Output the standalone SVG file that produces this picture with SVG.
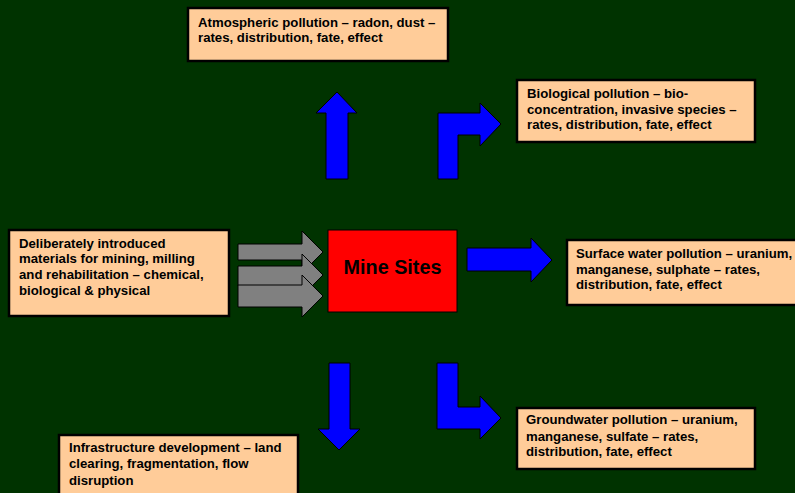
<svg xmlns="http://www.w3.org/2000/svg" width="795" height="493" viewBox="0 0 795 493">
<style>
.box{fill:#FFCC99;stroke:#000;stroke-width:2.5}
.t{font-family:"Liberation Sans",Arial,sans-serif;font-weight:bold;font-size:13.2px;fill:#000}
.blue{fill:#0000FF;stroke:#000;stroke-width:1}
.gray{fill:#808080;stroke:#000;stroke-width:1}
</style>
<rect width="795" height="493" fill="#003300"/>
<g id="connectors">
<polygon class="gray" points="238,244 302,244 302,231 323,252 302,273 302,260 238,260"/>
<polygon class="gray" points="238,266 302,266 302,254 323,275 302,296 302,286 238,286"/>
<polygon class="gray" points="238,285 302,285 302,275 323,296 302,317 302,307 238,307"/>
<polygon class="blue" points="326,179 326,113 316,113 337,92 357,113 348,113 348,179"/>
<polygon class="blue" points="438,179 438,113 480,113 480,103 501,124 480,146 480,135 458,135 458,179"/>
<polygon class="blue" points="467,248 531,248 531,238 552,260 531,282 531,271 467,271"/>
<polygon class="blue" points="329,363 350,363 350,429 360,429 339,450 318,429 329,429"/>
<polygon class="blue" points="437,363 458,363 458,407 480,407 480,396 501,418 480,439 480,429 437,429"/>
</g>
<g id="atmospheric">
<rect class="box" x="188" y="8" width="260" height="53"/>
<text class="t" x="198" y="27">Atmospheric pollution – radon, dust –</text>
<text class="t" x="198" y="42">rates, distribution, fate, effect</text>
</g>
<g id="biological">
<rect class="box" x="517" y="80" width="238" height="62"/>
<text class="t" x="527" y="98">Biological pollution – bio-</text>
<text class="t" x="527" y="114">concentration, invasive species –</text>
<text class="t" x="527" y="129">rates, distribution, fate, effect</text>
</g>
<g id="deliberate">
<rect class="box" x="9" y="230" width="220" height="86"/>
<text class="t" x="19" y="248">Deliberately introduced</text>
<text class="t" x="19" y="263">materials for mining, milling</text>
<text class="t" x="19" y="279">and rehabilitation – chemical,</text>
<text class="t" x="19" y="295">biological &amp; physical</text>
</g>
<g id="mine">
<rect x="328" y="230" width="129" height="82" fill="#FF0000" stroke="#000" stroke-width="1"/>
<text x="392.5" y="274" text-anchor="middle" font-family="Liberation Sans,Arial,sans-serif" font-weight="bold" font-size="19.8px">Mine Sites</text>
</g>
<g id="surface">
<rect class="box" x="567" y="240" width="240" height="65"/>
<text class="t" x="576" y="258">Surface water pollution – uranium,</text>
<text class="t" x="576" y="274">manganese, sulphate – rates,</text>
<text class="t" x="576" y="289">distribution, fate, effect</text>
</g>
<g id="groundwater">
<rect class="box" x="517" y="408" width="238" height="61"/>
<text class="t" x="526" y="424">Groundwater pollution – uranium,</text>
<text class="t" x="526" y="441">manganese, sulfate – rates,</text>
<text class="t" x="526" y="456">distribution, fate, effect</text>
</g>
<g id="infrastructure">
<rect class="box" x="59" y="435" width="239" height="70"/>
<text class="t" x="69" y="452">Infrastructure development – land</text>
<text class="t" x="69" y="468">clearing, fragmentation, flow</text>
<text class="t" x="69" y="485">disruption</text>
</g>
</svg>
